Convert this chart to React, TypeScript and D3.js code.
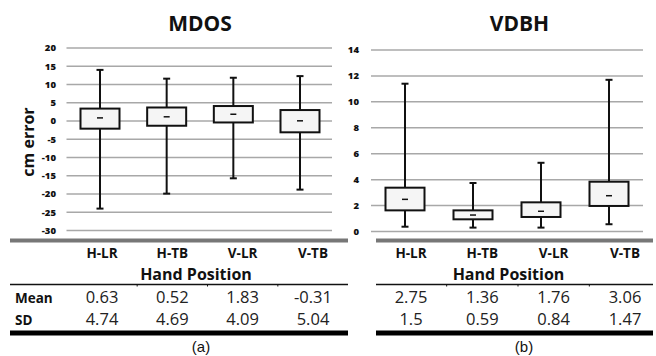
import React from "react";
import * as d3 from "d3";

const categories = ["H-LR", "H-TB", "V-LR", "V-TB"];

// MDOS (a)
const mdosMin = [-24, -19.9, -15.7, -18.8];
const mdosQ1 = [-2.1, -1.3, -0.4, -3.1];
const mdosMedian = [0.85, 1.15, 1.85, 0.05];
const mdosQ3 = [3.4, 3.7, 4.1, 3.0];
const mdosMax = [14.0, 11.6, 11.85, 12.3];
const mdosMean = ["0.63", "0.52", "1.83", "-0.31"];
const mdosSD = ["4.74", "4.69", "4.09", "5.04"];
const mdosTicks = [20, 15, 10, 5, 0, -5, -10, -15, -20, -25, -30];

// VDBH (b)
const vdbhMin = [0.37, 0.3, 0.3, 0.56];
const vdbhQ1 = [1.63, 0.94, 1.12, 1.97];
const vdbhMedian = [2.48, 1.27, 1.56, 2.76];
const vdbhQ3 = [3.38, 1.63, 2.25, 3.84];
const vdbhMax = [11.4, 3.74, 5.3, 11.7];
const vdbhMean = ["2.75", "1.36", "1.76", "3.06"];
const vdbhSD = ["1.5", "0.59", "0.84", "1.47"];
const vdbhTicks = [14, 12, 10, 8, 6, 4, 2, 0];

const FONT = "'Open Sans', 'Noto Sans', sans-serif";

type PanelProps = {
  title: string;
  yDomain: [number, number];
  yRange: [number, number];
  ticks: number[];
  tickX: number;
  gridX: [number, number];
  boxRange: [number, number];
  colRange: [number, number];
  tableX: [number, number];
  titleX: number;
  handX: number;
  labelX: number;
  min: number[];
  q1: number[];
  med: number[];
  q3: number[];
  max: number[];
  mean: string[];
  sd: string[];
  showRowLabels: boolean;
};

function Panel(p: PanelProps) {
  const y = d3.scaleLinear().domain(p.yDomain).range(p.yRange);
  const x = d3.scalePoint<string>().domain(categories).range(p.boxRange);
  const col = d3.scalePoint<string>().domain(categories).range(p.colRange);
  const bw = 39;
  const cap = 3.5;
  const colStep = col.step();
  return (
    <g>
      <text x={p.titleX} y={31} textAnchor="middle" fontFamily={FONT} fontWeight="bold" fontSize={21} fill="#111">
        {p.title}
      </text>
      {p.ticks.map((t) => (
        <g key={t}>
          <line x1={p.gridX[0]} x2={p.gridX[1]} y1={y(t)} y2={y(t)} stroke="#a8a8a8" strokeWidth={1.5} />
          <text x={p.tickX} y={y(t)} dy="0.35em" textAnchor="end" fontFamily={FONT} fontWeight={800} fontSize={9.5} fill="#111">
            {t}
          </text>
        </g>
      ))}
      {categories.map((c, i) => {
        const cx = x(c) as number;
        return (
          <g key={c}>
            <line x1={cx} x2={cx} y1={y(p.max[i])} y2={y(p.min[i])} stroke="#111" strokeWidth={2} />
            <line x1={cx - cap} x2={cx + cap} y1={y(p.max[i])} y2={y(p.max[i])} stroke="#111" strokeWidth={2} />
            <line x1={cx - cap} x2={cx + cap} y1={y(p.min[i])} y2={y(p.min[i])} stroke="#111" strokeWidth={2} />
            <rect
              x={cx - bw / 2}
              y={y(p.q3[i])}
              width={bw}
              height={y(p.q1[i]) - y(p.q3[i])}
              fill="#f5f5f5"
              stroke="#111"
              strokeWidth={2}
            />
            <line x1={cx - 3} x2={cx + 3} y1={y(p.med[i])} y2={y(p.med[i])} stroke="#111" strokeWidth={1.5} />
          </g>
        );
      })}
      {/* table */}
      <line x1={p.tableX[0]} x2={p.tableX[1]} y1={240.5} y2={240.5} stroke="#777" strokeWidth={4} />
      {categories.map((c) => (
        <text key={c} x={col(c) as number} y={257.5} textAnchor="middle" fontFamily={FONT} fontWeight="bold" fontSize={13.5} fill="#111">
          {c}
        </text>
      ))}
      <text x={p.handX} y={279.5} textAnchor="middle" fontFamily={FONT} fontWeight="bold" fontSize={16} fill="#111">
        Hand Position
      </text>
      <line x1={p.tableX[0]} x2={p.tableX[1]} y1={284.5} y2={284.5} stroke="#111" strokeWidth={1.3} />
      {categories.slice(1).map((c) => (
        <line
          key={c}
          x1={(col(c) as number) - colStep / 2}
          x2={(col(c) as number) - colStep / 2}
          y1={284.5}
          y2={286.5}
          stroke="#111"
          strokeWidth={1}
        />
      ))}
      {p.showRowLabels && (
        <g>
          <text x={15} y={302.5} fontFamily={FONT} fontWeight="bold" fontSize={13.5} fill="#111">
            Mean
          </text>
          <text x={15} y={324.5} fontFamily={FONT} fontWeight="bold" fontSize={13.5} fill="#111">
            SD
          </text>
        </g>
      )}
      {categories.map((c, i) => (
        <g key={c}>
          <text x={col(c) as number} y={303} textAnchor="middle" fontFamily={FONT} fontSize={16.5} fill="#222">
            {p.mean[i]}
          </text>
          <text x={col(c) as number} y={325} textAnchor="middle" fontFamily={FONT} fontSize={16.5} fill="#222">
            {p.sd[i]}
          </text>
        </g>
      ))}
      <line x1={p.tableX[0]} x2={p.tableX[1]} y1={333} y2={333} stroke="#000" strokeWidth={5} />
      <text x={p.labelX} y={352} textAnchor="middle" fontFamily="'Liberation Sans', Arial, sans-serif" fontSize={15} fill="#111">
        {p.title === "MDOS" ? "(a)" : "(b)"}
      </text>
    </g>
  );
}

export default function App() {
  return (
    <svg width={656} height={356} style={{ position: "absolute", left: 0, top: 0, background: "#fff" }}>
      <rect x={0} y={0} width={656} height={356} fill="#fff" />
      <text
        transform="translate(34,142) rotate(-90)"
        textAnchor="middle"
        fontFamily={FONT}
        fontWeight="bold"
        fontSize={16}
        fill="#111"
      >
        cm error
      </text>
      <Panel
        title="MDOS"
        yDomain={[20, -30]}
        yRange={[48, 230.5]}
        ticks={mdosTicks}
        tickX={56}
        gridX={[66.5, 332]}
        boxRange={[100, 300]}
        colRange={[102, 313]}
        tableX={[10, 348]}
        titleX={200}
        handX={196}
        labelX={201}
        min={mdosMin}
        q1={mdosQ1}
        med={mdosMedian}
        q3={mdosQ3}
        max={mdosMax}
        mean={mdosMean}
        sd={mdosSD}
        showRowLabels={true}
      />
      <Panel
        title="VDBH"
        yDomain={[14, 0]}
        yRange={[50, 231.5]}
        ticks={vdbhTicks}
        tickX={359}
        gridX={[371, 643]}
        boxRange={[405, 609]}
        colRange={[411, 625]}
        tableX={[376, 653]}
        titleX={519.5}
        handX={508.5}
        labelX={524}
        min={vdbhMin}
        q1={vdbhQ1}
        med={vdbhMedian}
        q3={vdbhQ3}
        max={vdbhMax}
        mean={vdbhMean}
        sd={vdbhSD}
        showRowLabels={false}
      />
    </svg>
  );
}
